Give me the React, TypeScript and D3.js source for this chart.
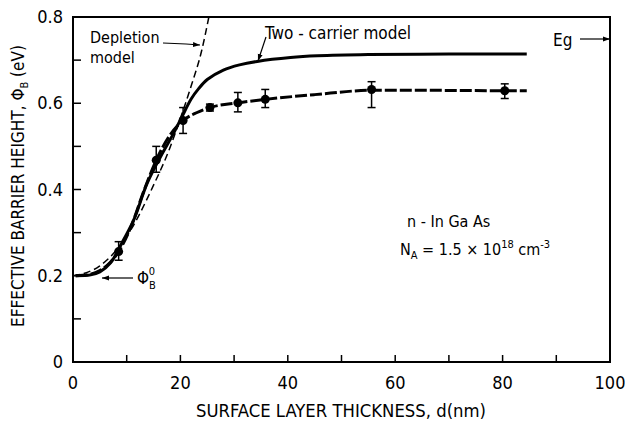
import React from "react";
import * as d3 from "d3";

// ---- data ----
const dataX = [8.5, 15.5, 20.5, 25.5, 30.7, 35.8, 55.6, 80.4];
const dataY = [0.256, 0.468, 0.56, 0.59, 0.601, 0.609, 0.632, 0.629];
const errLo = [0.236, 0.44, 0.53, 0.582, 0.58, 0.59, 0.59, 0.611];
const errHi = [0.279, 0.5, 0.59, 0.598, 0.625, 0.632, 0.65, 0.645];

const fitX = [0.5, 3, 5, 7, 8.5, 11, 13, 15.5, 18, 20.5, 23, 25.5, 30.7, 35.8, 45, 55.6, 65, 80.4, 84.5];
const fitY = [0.2, 0.203, 0.212, 0.232, 0.256, 0.32, 0.39, 0.468, 0.525, 0.56, 0.578, 0.59, 0.601, 0.609, 0.62, 0.63, 0.63, 0.629, 0.629];

const twoX = [0.5, 3.3, 5, 7, 9.4, 11.3, 13.8, 16.3, 18.5, 20.3, 22, 23.4, 25, 28, 31, 34.3, 40.5, 45.5, 55, 70, 84.5];
const twoY = [0.2, 0.202, 0.209, 0.23, 0.283, 0.329, 0.414, 0.476, 0.525, 0.569, 0.61, 0.634, 0.655, 0.677, 0.689, 0.697, 0.706, 0.71, 0.713, 0.714, 0.714];

const depX = [0, 5, 10, 15, 18, 20, 22, 24, 25.3];
const depY = [0.2, 0.223, 0.291, 0.41, 0.495, 0.565, 0.64, 0.724, 0.8];

const xTickLabels = [0, 20, 40, 60, 80, 100];
const xMinorTicks = [10, 20, 30, 40, 50, 60, 70, 80, 90];
const yTickLabels = [0, 0.2, 0.4, 0.6, 0.8];
const yMinorTicks = [0.1, 0.2, 0.3, 0.4, 0.5, 0.6, 0.7];

const FONT = "'DejaVu Sans Condensed', 'Liberation Sans Narrow', 'DejaVu Sans', sans-serif";

export default function App() {
  const x = d3.scaleLinear().domain([0, 100]).range([73, 610]);
  const y = d3.scaleLinear().domain([0, 0.8]).range([362, 17]);

  const mk = (xs: number[], ys: number[], curve: d3.CurveFactory = d3.curveMonotoneX) =>
    d3.line<number>().x((_, i) => x(xs[i])).y((_, i) => y(ys[i])).curve(curve)(xs) || "";

  const fitPath = mk(fitX, fitY);
  const twoPath = mk(twoX, twoY, d3.curveCatmullRom.alpha(0.5));
  const depPath = mk(depX, depY);

  const fmtY = (v: number) => (v === 0 ? "0" : v.toFixed(1));

  return (
    <div style={{ position: "fixed", left: 0, top: 0 }}>
      <svg width={625} height={423} style={{ display: "block", background: "#fff" }} fontFamily={FONT}>
        <defs>
          <marker id="ah" viewBox="0 0 10 10" refX="10" refY="5" markerWidth="7" markerHeight="7" orient="auto-start-reverse" markerUnits="userSpaceOnUse">
            <path d="M0,1.5 L10,5 L0,8.5 Z" fill="#000" />
          </marker>
        </defs>

        {/* frame */}
        <rect x={x(0)} y={y(0.8)} width={x(100) - x(0)} height={y(0) - y(0.8)} fill="none" stroke="#000" strokeWidth={2} />

        {/* ticks */}
        {xMinorTicks.map((t) => (
          <line key={"xt" + t} x1={x(t)} x2={x(t)} y1={y(0)} y2={y(0) - 7} stroke="#000" strokeWidth={1.5} />
        ))}
        {yMinorTicks.map((t) => (
          <line key={"yt" + t} x1={x(0)} x2={x(0) + 8} y1={y(t)} y2={y(t)} stroke="#000" strokeWidth={1.5} />
        ))}

        {/* tick labels */}
        {xTickLabels.map((t) => (
          <text key={"xl" + t} x={x(t)} y={389} fontSize={18} textAnchor="middle">{t}</text>
        ))}
        {yTickLabels.map((t) => (
          <text key={"yl" + t} x={63} y={y(t) + 6} fontSize={18} textAnchor="end">{fmtY(t)}</text>
        ))}

        {/* axis titles */}
        <text x={341} y={417} fontSize={17} textAnchor="middle" textLength={290} lengthAdjust="spacingAndGlyphs">
          SURFACE LAYER THICKNESS, d(nm)
        </text>
        <text transform="translate(24,186) rotate(-90)" fontSize={17} textAnchor="middle">
          EFFECTIVE BARRIER HEIGHT, Φ<tspan fontSize={11} dy={4}>B</tspan><tspan dy={-4}> (eV)</tspan>
        </text>

        {/* curves */}
        <path d={depPath} fill="none" stroke="#000" strokeWidth={1.5} strokeDasharray="7 4" />
        <path d={fitPath} fill="none" stroke="#000" strokeWidth={3} strokeDasharray="12 3" />
        <path d={twoPath} fill="none" stroke="#000" strokeWidth={3} />

        {/* error bars + points */}
        {dataX.map((d, i) => (
          <g key={"p" + i}>
            <line x1={x(d)} x2={x(d)} y1={y(errLo[i])} y2={y(errHi[i])} stroke="#000" strokeWidth={1.5} />
            <line x1={x(d) - 4} x2={x(d) + 4} y1={y(errLo[i])} y2={y(errLo[i])} stroke="#000" strokeWidth={1.5} />
            <line x1={x(d) - 4} x2={x(d) + 4} y1={y(errHi[i])} y2={y(errHi[i])} stroke="#000" strokeWidth={1.5} />
            <circle cx={x(d)} cy={y(dataY[i])} r={4.5} fill="#000" />
          </g>
        ))}

        {/* annotations */}
        <text x={90} y={43} fontSize={16}>Depletion</text>
        <text x={90} y={63} fontSize={16}>model</text>
        <path d="M163,43 L186,44 L200,45" fill="none" stroke="#000" strokeWidth={1.2} markerEnd="url(#ah)" />

        <text x={265} y={39} fontSize={17}>Two - carrier model</text>
        <path d="M266,37 L258,61" fill="none" stroke="#000" strokeWidth={1.2} markerEnd="url(#ah)" />

        <text x={553} y={46} fontSize={17}>Eg</text>
        <path d="M580,39 L610,39" fill="none" stroke="#000" strokeWidth={1.2} markerEnd="url(#ah)" />

        <path d="M133,278 L102,278" fill="none" stroke="#000" strokeWidth={1.2} markerEnd="url(#ah)" />
        <text x={137} y={284} fontSize={17}>
          Φ<tspan fontSize={11} dy={5}>B</tspan>
          <tspan fontSize={11} dx={-7} dy={-14}>0</tspan>
        </text>

        <text x={407} y={227} fontSize={16}>n - In Ga As</text>
        <text x={400} y={255} fontSize={16}>
          N<tspan fontSize={11} dy={4}>A</tspan>
          <tspan dy={-4}> = 1.5 × 10</tspan>
          <tspan fontSize={11} dy={-7}>18</tspan>
          <tspan dy={7}> cm</tspan>
          <tspan fontSize={11} dy={-7}>-3</tspan>
        </text>
      </svg>
    </div>
  );
}
